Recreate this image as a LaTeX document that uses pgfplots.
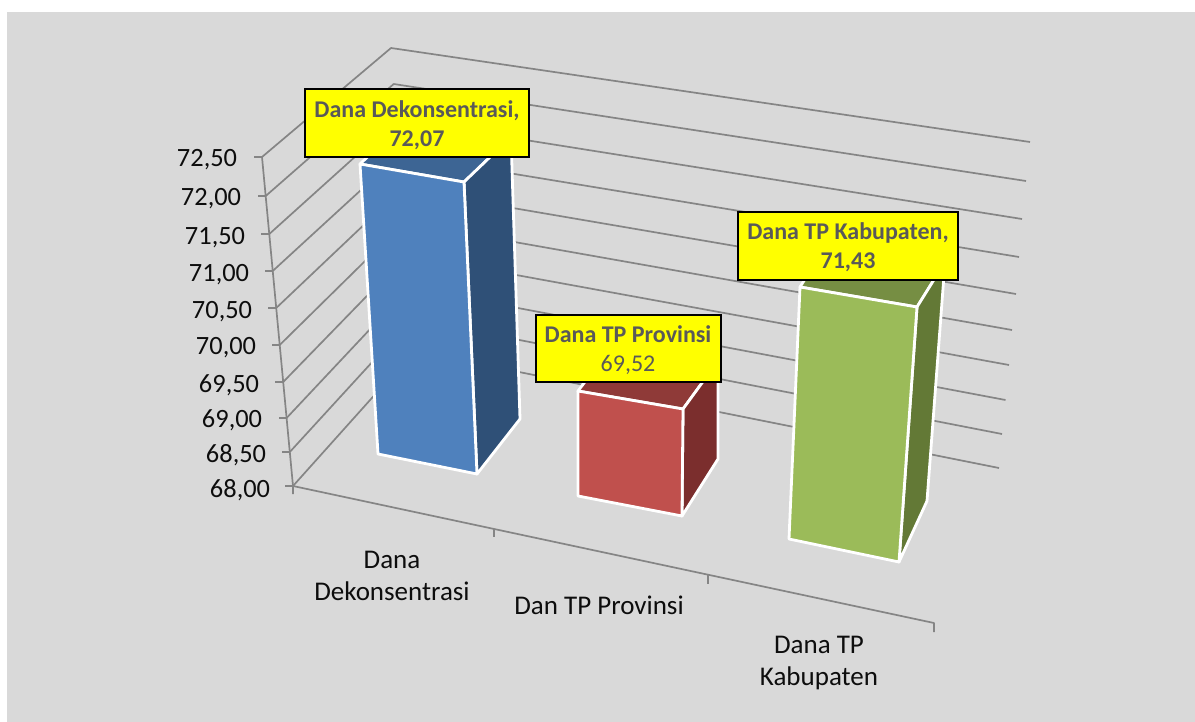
\documentclass[border=0pt]{standalone}
\usepackage{fontspec}
\setmainfont{Carlito}
\usepackage{pgfplots}
\pgfplotsset{compat=1.18}

\definecolor{bg}{HTML}{D9D9D9}
\definecolor{gridc}{HTML}{858585}
\definecolor{lab}{HTML}{595959}
\definecolor{txt}{HTML}{0D0D0D}
\definecolor{boxc}{HTML}{FFFF00}
\definecolor{blueF}{HTML}{4F81BD}
\definecolor{blueT}{HTML}{3D6594}
\definecolor{blueS}{HTML}{2F5077}
\definecolor{redF}{HTML}{C0504D}
\definecolor{redT}{HTML}{8F3A38}
\definecolor{redS}{HTML}{7B2E2D}
\definecolor{greenF}{HTML}{9BBB59}
\definecolor{greenT}{HTML}{768E43}
\definecolor{greenS}{HTML}{637936}

\tikzset{
    bar/.style={draw=white, line width=1.4pt},
    box/.style={fill=boxc, draw=black, line width=0.9pt, line join=miter},
    ticklab/.style={anchor=east, font=\fontsize{13.2}{14}\selectfont, text=txt, inner sep=0pt},
    catlab/.style={anchor=center, align=center, font=\fontsize{13.5}{15.6}\selectfont, text=txt, inner sep=0pt},
    vallab/.style={anchor=center, align=center, font=\fontsize{12}{14.6}\selectfont, text=lab, inner sep=0pt},
}

% closed polygon in picture coordinates
\newcommand{\face}[2]{\addplot[#1] coordinates {#2} -- cycle;}
\newcommand{\wire}[1]{\addplot[gridc, line width=0.85pt] coordinates {#1};}

\begin{document}
\begin{tikzpicture}
\begin{axis}[
    x=0.5pt, y=0.5pt,
    xmin=0, xmax=1195, ymin=0, ymax=722,
    y dir=reverse,
    hide axis,
    no markers,
    every axis plot/.append style={line join=round},
]
% background
\face{draw=none, fill=white}{(0,0) (1195,0) (1195,722) (0,722)}
\face{draw=none, fill=bg}{(7,12) (1195,12) (1195,722) (7,722)}

% walls: front tick, back corner, right end
\wire{(254,157) (262,157) (391,48) (1030,142)}
\wire{(258,196) (265.7,196) (393.7,84) (1026,181)}
\wire{(261,234) (269.3,234) (396.4,119.5) (1022,219)}
\wire{(265,271) (272.7,271) (399.1,155) (1019,257)}
\wire{(268,308) (276.2,308) (401.7,189) (1016,294)}
\wire{(272,345) (279.7,345) (404.2,222.5) (1012,330)}
\wire{(275,382) (283.2,382) (406.7,255) (1009,365)}
\wire{(279,418) (286.6,418) (409.2,287.5) (1005.5,400)}
\wire{(282,452) (289.8,452) (411.6,319) (1002,434)}
\wire{(285,486) (293,486) (414,351) (999,468)}
% value axis and category axis
\wire{(262,157) (293,486) (293,494)}
\wire{(293,486) (934,623) (934,632)}
\wire{(494,529) (494,537)}
\wire{(708,575) (708,584)}

% Dana Dekonsentrasi 72,07
\face{bar, fill=blueT}{(360,164) (407,120) (511,137) (464,182)}
\face{bar, fill=blueS}{(464,182) (511,137) (520,419) (477,474)}
\face{bar, fill=blueF}{(360,164) (464,182) (477,474) (378,454)}
% Dana TP Provinsi 69,52
\face{bar, fill=redT}{(578,391) (620,336) (718,361) (683,409)}
\face{bar, fill=redS}{(683,409) (718,361) (718,459) (682,516)}
\face{bar, fill=redF}{(578,391) (683,409) (682,516) (578,496)}
% Dana TP Kabupaten 71,43
\face{bar, fill=greenT}{(800,287) (830,240) (945,262) (917,307)}
\face{bar, fill=greenS}{(917,307) (945,262) (927,501) (899,562)}
\face{bar, fill=greenF}{(800,287) (917,307) (899,562) (789,539)}

% data label boxes
\face{box}{(305,89) (529,89) (529,157) (305,157)}
\face{box}{(536,315) (721,315) (721,382) (536,382)}
\face{box}{(738,212) (958,212) (958,280) (738,280)}

\node[vallab] at (axis cs:417,125) {\textbf{Dana Dekonsentrasi,}\\\textbf{72,07}};
\node[vallab] at (axis cs:628,350) {\textbf{Dana TP Provinsi}\\69,52};
\node[vallab] at (axis cs:848,247) {\textbf{Dana TP Kabupaten,}\\\textbf{71,43}};

% value axis labels
\node[ticklab] at (axis cs:237.5,160) {72,50};
\node[ticklab] at (axis cs:241.5,199) {72,00};
\node[ticklab] at (axis cs:245.5,238) {71,50};
\node[ticklab] at (axis cs:249.5,275) {71,00};
\node[ticklab] at (axis cs:252.5,312) {70,50};
\node[ticklab] at (axis cs:256.5,348) {70,00};
\node[ticklab] at (axis cs:259.5,385) {69,50};
\node[ticklab] at (axis cs:262.5,420) {69,00};
\node[ticklab] at (axis cs:266.5,455) {68,50};
\node[ticklab] at (axis cs:270.5,490) {68,00};

% category labels
\node[catlab] at (axis cs:392,576) {Dana\\Dekonsentrasi};
\node[catlab] at (axis cs:599,605) {Dan TP Provinsi};
\node[catlab] at (axis cs:819,663) {Dana TP\\Kabupaten};
\end{axis}
\end{tikzpicture}
\end{document}
